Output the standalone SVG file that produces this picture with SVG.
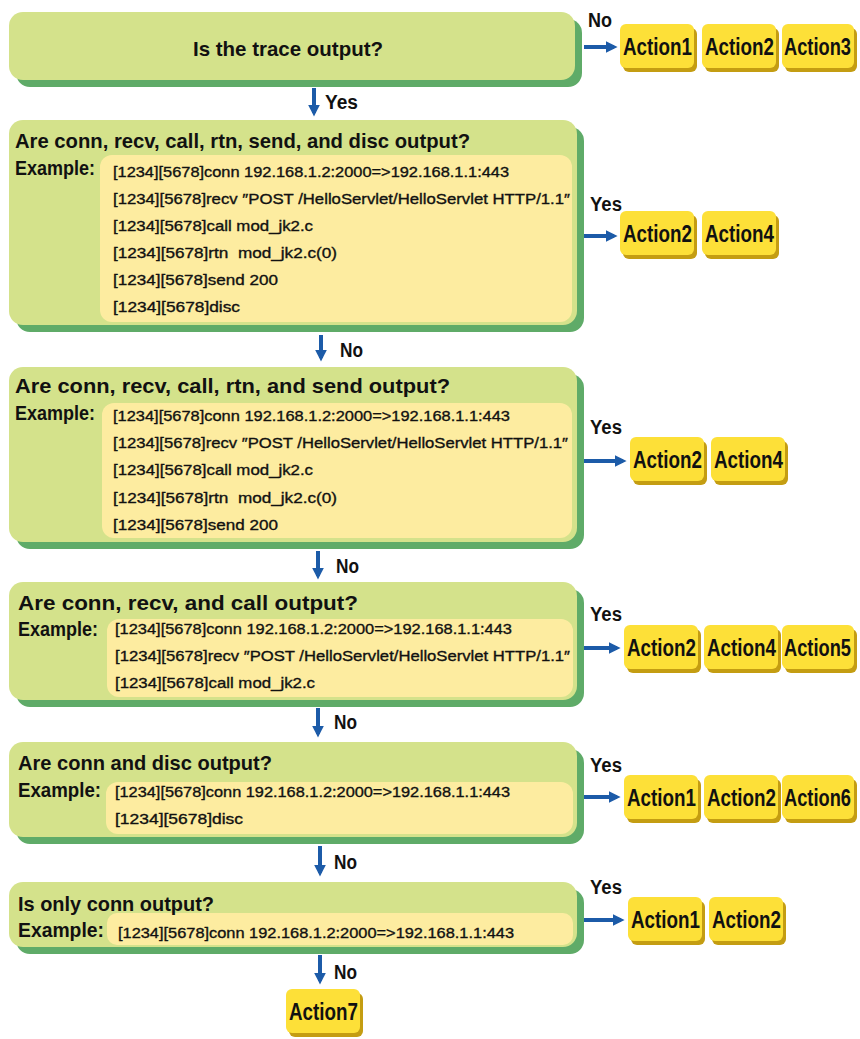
<svg xmlns="http://www.w3.org/2000/svg" width="860" height="1039" viewBox="0 0 860 1039">
  <style>
    .face{fill:#d4e28b}
    .shade{fill:#5fab68}
    .inner{fill:#fdeca0}
    .act{fill:#fde038}
    .actsh{fill:#c49d12}
    .t{font-family:"Liberation Sans",Arial,sans-serif;font-weight:bold;fill:#111}
    .title{font-size:21px}
    .ex{font-size:20px}
    .code{font-family:"Liberation Sans",Arial,sans-serif;font-size:15px;fill:#111;stroke:#111;stroke-width:0.35}
    .lbl{font-size:20px}
    .atext{font-size:20px}
    .arrow{stroke:#1c5ba8;stroke-width:4;fill:none}
  </style>
  <defs>
    <marker id="head" viewBox="0 0 10 10" refX="7" refY="5" markerWidth="3" markerHeight="3" orient="auto" markerUnits="strokeWidth">
      <path d="M0,0 L10,5 L0,10 z" fill="#1c5ba8"/>
    </marker>
    <g id="actbox">
      <rect class="actsh" x="3" y="4" width="74" height="44" rx="6"/>
      <rect class="act" x="0" y="0" width="74" height="44" rx="6"/>
    </g>
    <g id="actbox-s">
      <rect class="actsh" x="3" y="4" width="72" height="44" rx="6"/>
      <rect class="act" x="0" y="0" width="72" height="44" rx="6"/>
    </g>
  </defs>
  <rect width="860" height="1039" fill="#ffffff"/>

  <!-- decision: trace output -->
  <g id="q1">
    <rect class="shade" x="16" y="19" width="566" height="68" rx="14"/>
    <rect class="face" x="9" y="12" width="566" height="68" rx="14"/>
    <text class="t title" x="193" y="56" textLength="190" lengthAdjust="spacingAndGlyphs">Is the trace output?</text>
  </g>

  <!-- decision: full sequence -->
  <g id="q2">
    <rect class="shade" x="16" y="127" width="568" height="205" rx="14"/>
    <rect class="face" x="9" y="120" width="568" height="205" rx="14"/>
    <rect class="inner" x="100" y="155" width="472" height="167" rx="12"/>
    <text class="t title" x="15" y="148" textLength="455" lengthAdjust="spacingAndGlyphs">Are conn, recv, call, rtn, send, and disc output?</text>
    <text class="t ex" x="15" y="175" textLength="80" lengthAdjust="spacingAndGlyphs">Example:</text>
    <text class="code" x="113" y="177" textLength="396" lengthAdjust="spacingAndGlyphs">[1234][5678]conn 192.168.1.2:2000=&gt;192.168.1.1:443</text>
    <text class="code" x="113" y="204" textLength="457" lengthAdjust="spacingAndGlyphs">[1234][5678]recv ″POST /HelloServlet/HelloServlet HTTP/1.1″</text>
    <text class="code" x="113" y="231" textLength="200" lengthAdjust="spacingAndGlyphs">[1234][5678]call mod_jk2.c</text>
    <text class="code" x="113" y="258" textLength="224" lengthAdjust="spacingAndGlyphs">[1234][5678]rtn&#160; mod_jk2.c(0)</text>
    <text class="code" x="113" y="285" textLength="165" lengthAdjust="spacingAndGlyphs">[1234][5678]send 200</text>
    <text class="code" x="113" y="312" textLength="127" lengthAdjust="spacingAndGlyphs">[1234][5678]disc</text>
  </g>

  <!-- decision: without disc -->
  <g id="q3">
    <rect class="shade" x="16" y="374" width="568" height="175" rx="14"/>
    <rect class="face" x="9" y="367" width="568" height="175" rx="14"/>
    <rect class="inner" x="102" y="403" width="470" height="135" rx="12"/>
    <text class="t title" x="15" y="393" textLength="435" lengthAdjust="spacingAndGlyphs">Are conn, recv, call, rtn, and send output?</text>
    <text class="t ex" x="15" y="420" textLength="80" lengthAdjust="spacingAndGlyphs">Example:</text>
    <text class="code" x="113" y="421" textLength="397" lengthAdjust="spacingAndGlyphs">[1234][5678]conn 192.168.1.2:2000=&gt;192.168.1.1:443</text>
    <text class="code" x="113" y="448" textLength="455" lengthAdjust="spacingAndGlyphs">[1234][5678]recv ″POST /HelloServlet/HelloServlet HTTP/1.1″</text>
    <text class="code" x="113" y="475" textLength="200" lengthAdjust="spacingAndGlyphs">[1234][5678]call mod_jk2.c</text>
    <text class="code" x="113" y="503" textLength="224" lengthAdjust="spacingAndGlyphs">[1234][5678]rtn&#160; mod_jk2.c(0)</text>
    <text class="code" x="113" y="530" textLength="165" lengthAdjust="spacingAndGlyphs">[1234][5678]send 200</text>
  </g>

  <!-- decision: conn, recv, call -->
  <g id="q4">
    <rect class="shade" x="16" y="589" width="568" height="118" rx="14"/>
    <rect class="face" x="9" y="582" width="568" height="118" rx="14"/>
    <rect class="inner" x="107" y="619" width="466" height="78" rx="12"/>
    <text class="t title" x="18" y="610" textLength="340" lengthAdjust="spacingAndGlyphs">Are conn, recv, and call output?</text>
    <text class="t ex" x="18" y="636" textLength="80" lengthAdjust="spacingAndGlyphs">Example:</text>
    <text class="code" x="115" y="634" textLength="397" lengthAdjust="spacingAndGlyphs">[1234][5678]conn 192.168.1.2:2000=&gt;192.168.1.1:443</text>
    <text class="code" x="115" y="661" textLength="455" lengthAdjust="spacingAndGlyphs">[1234][5678]recv ″POST /HelloServlet/HelloServlet HTTP/1.1″</text>
    <text class="code" x="115" y="688" textLength="200" lengthAdjust="spacingAndGlyphs">[1234][5678]call mod_jk2.c</text>
  </g>

  <!-- decision: conn and disc -->
  <g id="q5">
    <rect class="shade" x="16" y="749" width="568" height="95" rx="14"/>
    <rect class="face" x="9" y="742" width="568" height="95" rx="14"/>
    <rect class="inner" x="106" y="782" width="467" height="52" rx="12"/>
    <text class="t title" x="18" y="770" textLength="254" lengthAdjust="spacingAndGlyphs">Are conn and disc output?</text>
    <text class="t ex" x="18" y="797" textLength="83" lengthAdjust="spacingAndGlyphs">Example:</text>
    <text class="code" x="115" y="797" textLength="395" lengthAdjust="spacingAndGlyphs">[1234][5678]conn 192.168.1.2:2000=&gt;192.168.1.1:443</text>
    <text class="code" x="115" y="824" textLength="128" lengthAdjust="spacingAndGlyphs">[1234][5678]disc</text>
  </g>

  <!-- decision: only conn -->
  <g id="q6">
    <rect class="shade" x="16" y="889" width="568" height="65" rx="14"/>
    <rect class="face" x="9" y="882" width="568" height="65" rx="14"/>
    <rect class="inner" x="107" y="913" width="466" height="32" rx="10"/>
    <text class="t title" x="18" y="911" textLength="196" lengthAdjust="spacingAndGlyphs">Is only conn output?</text>
    <text class="t ex" x="18" y="937" textLength="86" lengthAdjust="spacingAndGlyphs">Example:</text>
    <text class="code" x="118" y="938" textLength="396" lengthAdjust="spacingAndGlyphs">[1234][5678]conn 192.168.1.2:2000=&gt;192.168.1.1:443</text>
  </g>

  <!-- action rows; labels are stretched vertically to the tall gothic look -->
  <g id="r1">
    <use href="#actbox" x="620" y="24"/><text class="t atext" transform="translate(623,55) scale(1,1.15)" textLength="69" lengthAdjust="spacingAndGlyphs">Action1</text>
    <use href="#actbox" x="702" y="24"/><text class="t atext" transform="translate(705,55) scale(1,1.15)" textLength="69" lengthAdjust="spacingAndGlyphs">Action2</text>
    <use href="#actbox-s" x="782" y="24"/><text class="t atext" transform="translate(784,55) scale(1,1.15)" textLength="67" lengthAdjust="spacingAndGlyphs">Action3</text>
  </g>
  <g id="r2">
    <use href="#actbox" x="620" y="211"/><text class="t atext" transform="translate(623,242) scale(1,1.15)" textLength="69" lengthAdjust="spacingAndGlyphs">Action2</text>
    <use href="#actbox" x="702" y="211"/><text class="t atext" transform="translate(705,242) scale(1,1.15)" textLength="69" lengthAdjust="spacingAndGlyphs">Action4</text>
  </g>
  <g id="r3">
    <use href="#actbox" x="630" y="437"/><text class="t atext" transform="translate(633,468) scale(1,1.15)" textLength="69" lengthAdjust="spacingAndGlyphs">Action2</text>
    <use href="#actbox" x="711" y="437"/><text class="t atext" transform="translate(714,468) scale(1,1.15)" textLength="69" lengthAdjust="spacingAndGlyphs">Action4</text>
  </g>
  <g id="r4">
    <use href="#actbox" x="624" y="625"/><text class="t atext" transform="translate(627,656) scale(1,1.15)" textLength="69" lengthAdjust="spacingAndGlyphs">Action2</text>
    <use href="#actbox" x="704" y="625"/><text class="t atext" transform="translate(707,656) scale(1,1.15)" textLength="69" lengthAdjust="spacingAndGlyphs">Action4</text>
    <use href="#actbox-s" x="782" y="625"/><text class="t atext" transform="translate(784,656) scale(1,1.15)" textLength="67" lengthAdjust="spacingAndGlyphs">Action5</text>
  </g>
  <g id="r5">
    <use href="#actbox" x="624" y="775"/><text class="t atext" transform="translate(627,806) scale(1,1.15)" textLength="69" lengthAdjust="spacingAndGlyphs">Action1</text>
    <use href="#actbox" x="704" y="775"/><text class="t atext" transform="translate(707,806) scale(1,1.15)" textLength="69" lengthAdjust="spacingAndGlyphs">Action2</text>
    <use href="#actbox-s" x="782" y="775"/><text class="t atext" transform="translate(784,806) scale(1,1.15)" textLength="67" lengthAdjust="spacingAndGlyphs">Action6</text>
  </g>
  <g id="r6">
    <use href="#actbox" x="628" y="897"/><text class="t atext" transform="translate(631,928) scale(1,1.15)" textLength="69" lengthAdjust="spacingAndGlyphs">Action1</text>
    <use href="#actbox" x="709" y="897"/><text class="t atext" transform="translate(712,928) scale(1,1.15)" textLength="69" lengthAdjust="spacingAndGlyphs">Action2</text>
  </g>
  <g id="a7">
    <use href="#actbox" x="286" y="989"/><text class="t atext" transform="translate(289,1020) scale(1,1.15)" textLength="69" lengthAdjust="spacingAndGlyphs">Action7</text>
  </g>

  <!-- connectors -->
  <g id="connectors">
    <line class="arrow" x1="584" y1="47" x2="614" y2="47" marker-end="url(#head)"/>
    <line class="arrow" x1="584" y1="236" x2="614" y2="236" marker-end="url(#head)"/>
    <line class="arrow" x1="584" y1="461" x2="623" y2="461" marker-end="url(#head)"/>
    <line class="arrow" x1="584" y1="648" x2="617" y2="648" marker-end="url(#head)"/>
    <line class="arrow" x1="584" y1="797" x2="617" y2="797" marker-end="url(#head)"/>
    <line class="arrow" x1="584" y1="920" x2="621" y2="920" marker-end="url(#head)"/>

    <line class="arrow" x1="314" y1="88" x2="314" y2="113" marker-end="url(#head)"/>
    <line class="arrow" x1="321" y1="335" x2="321" y2="358" marker-end="url(#head)"/>
    <line class="arrow" x1="318" y1="551" x2="318" y2="576" marker-end="url(#head)"/>
    <line class="arrow" x1="318" y1="708" x2="318" y2="734" marker-end="url(#head)"/>
    <line class="arrow" x1="320" y1="846" x2="320" y2="873" marker-end="url(#head)"/>
    <line class="arrow" x1="320" y1="955" x2="320" y2="981" marker-end="url(#head)"/>

    <text class="t lbl" x="588" y="27" textLength="24" lengthAdjust="spacingAndGlyphs">No</text>
    <text class="t lbl" x="325" y="109" textLength="33" lengthAdjust="spacingAndGlyphs">Yes</text>
    <text class="t lbl" x="590" y="211" textLength="32" lengthAdjust="spacingAndGlyphs">Yes</text>
    <text class="t lbl" x="340" y="357" textLength="23" lengthAdjust="spacingAndGlyphs">No</text>
    <text class="t lbl" x="590" y="434" textLength="32" lengthAdjust="spacingAndGlyphs">Yes</text>
    <text class="t lbl" x="336" y="573" textLength="23" lengthAdjust="spacingAndGlyphs">No</text>
    <text class="t lbl" x="590" y="621" textLength="32" lengthAdjust="spacingAndGlyphs">Yes</text>
    <text class="t lbl" x="334" y="729" textLength="23" lengthAdjust="spacingAndGlyphs">No</text>
    <text class="t lbl" x="590" y="772" textLength="32" lengthAdjust="spacingAndGlyphs">Yes</text>
    <text class="t lbl" x="334" y="869" textLength="23" lengthAdjust="spacingAndGlyphs">No</text>
    <text class="t lbl" x="590" y="894" textLength="32" lengthAdjust="spacingAndGlyphs">Yes</text>
    <text class="t lbl" x="334" y="979" textLength="23" lengthAdjust="spacingAndGlyphs">No</text>
  </g>
</svg>
